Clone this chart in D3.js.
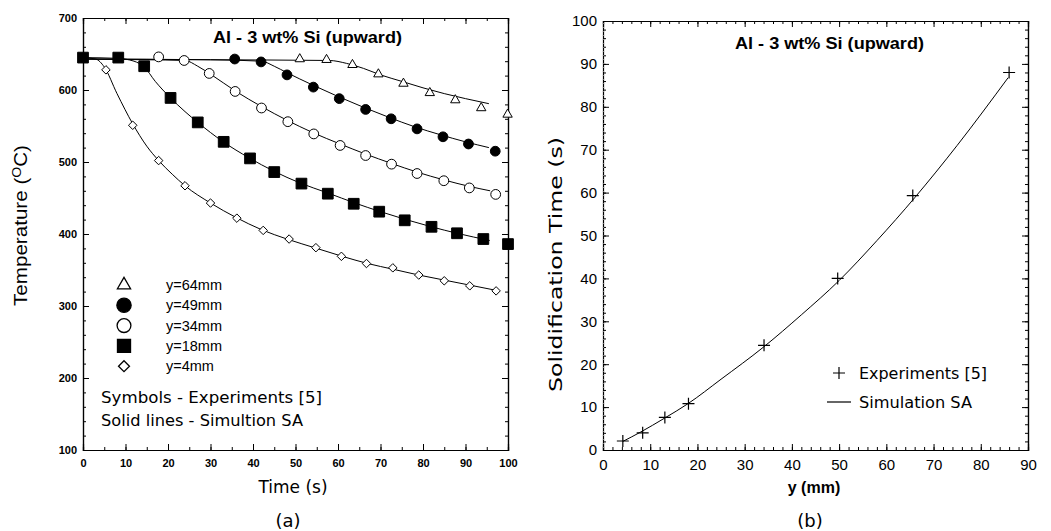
<!DOCTYPE html>
<html>
<head>
<meta charset="utf-8">
<title>Al - 3 wt% Si (upward)</title>
<style>
  body { margin: 0; background: #fff; }
  svg { display: block; }
  .lbl { font-family: "Liberation Sans", Arial, sans-serif; }
  .goth { font-family: "DejaVu Sans", "Liberation Sans", sans-serif; }
</style>
</head>
<body>
<svg id="chart" width="1051" height="531"></svg>
<script src="https://d3js.org/d3.v7.min.js"></script>
<script>

// ---- panel (a): cooling curves, [time (s), temperature (C)] ----
var seriesLabels = ["y=64mm", "y=49mm", "y=34mm", "y=18mm", "y=4mm"]
var timeTicks = d3.range(0, 101, 10)
var tempTicks = d3.range(100, 701, 100)

var exp64 = [[51, 643], [57.3, 642], [63.4, 635], [69.5, 622], [75.4, 609], [81.6, 596], [87.6, 586], [93.7, 575], [99.9, 566]]
var exp49 = [[35.7, 643], [41.9, 639], [48, 621], [54.2, 604], [60.3, 588], [66.5, 573], [72.5, 560], [78.6, 546], [84.7, 535], [90.7, 525], [97, 515]]
var exp34 = [[17.8, 646], [23.8, 641], [29.7, 623], [35.8, 598], [42, 575], [48.2, 556], [54.3, 539], [60.5, 523], [66.5, 509], [72.6, 497], [78.6, 484], [84.9, 474], [90.9, 464], [97.1, 455]]
var exp18 = [[0, 645], [8.3, 645], [14.4, 633], [20.6, 589], [27, 555], [33.1, 528], [39.3, 505], [45, 486], [51.4, 470], [57.6, 456], [63.7, 442], [69.7, 431], [75.7, 419], [82, 410], [88, 401], [94.2, 393], [100, 386]]
var exp4 = [[5.4, 628], [11.7, 551], [17.8, 502], [24, 467], [30, 443], [36.2, 422], [42.4, 405], [48.5, 393], [54.8, 381], [60.8, 369], [66.7, 359], [72.9, 353], [79, 343], [85, 335], [91, 328], [97.2, 321]]

var sim64 = [[0, 643], [30, 642], [58, 641], [62, 637], [66, 630], [70, 621], [75, 612], [80, 603], [85, 595], [90, 588], [95.5, 581]]
var sim49 = [[0, 643], [30, 642], [42, 640], [45, 633], [48, 624], [54, 607], [60, 591], [66, 576], [72, 562], [78, 549], [84, 538], [90, 528], [95.5, 520]]
var sim34 = [[0, 643], [15, 642], [24, 641], [27, 633], [30, 622], [36, 598], [42, 577], [48, 558], [54, 541], [60.5, 525], [66.5, 511], [72.6, 498], [78.6, 486], [85, 475], [91, 466], [95.8, 460]]
var sim18 = [[0, 645], [8, 644], [12, 640], [14.4, 632], [17, 612], [20.6, 589], [24, 570], [27, 555], [33, 528], [39, 506], [45, 487], [51, 471], [57.6, 457], [64, 443], [70, 431], [76, 420], [82, 410], [88, 401], [95.7, 391]]
var sim4 = [[0, 645], [3, 643], [5, 632], [8, 595], [11.7, 553], [15, 522], [17.8, 502], [21, 483], [24, 467], [30, 443], [36, 423], [42, 406], [48, 393], [55, 380], [61, 369], [67, 359], [73, 351], [79, 343], [85, 336], [91, 329], [97, 322]]

// ---- panel (b): solidification time vs height, [y (mm), time (s)] ----
var heightTicks = d3.range(0, 91, 10)
var solTicks = d3.range(0, 101, 10)
var solExp = [[4.2, 2.1], [8.4, 4.0], [13.1, 7.6], [18.1, 10.8], [34.1, 24.4], [49.7, 40], [65.6, 59.3], [86, 88]]
var solSim = [[4.2, 2], [8, 4.2], [13, 7.4], [18, 10.8], [25, 16.5], [34, 24], [42, 31.5], [50, 39.5], [58, 48.8], [66, 58.8], [75, 71], [85.8, 86.8]]

var svg = d3.select("#chart")

// ticks point inward on all four sides, labels only bottom/left
function inwardAxes(g, x, y, xMajor, xMinor, yMajor, yMinor, font, size, bold, dotLeft) {
    var x0 = x.range()[0], x1 = x.range()[1]
    var yb = y.range()[0], yt = y.range()[1]
    g.append("g").attr("transform", "translate(0," + yb + ")")
        .call(d3.axisBottom(x).tickValues(xMinor).tickSize(-3).tickFormat(""))
    g.append("g").attr("transform", "translate(0," + yt + ")")
        .call(d3.axisTop(x).tickValues(xMinor).tickSize(-3).tickFormat(""))
    g.append("g").attr("transform", "translate(" + x0 + ",0)")
        .call(d3.axisLeft(y).tickValues(yMinor).tickSize(-3).tickFormat(""))
    g.append("g").attr("transform", "translate(" + x1 + ",0)")
        .call(d3.axisRight(y).tickValues(yMinor).tickSize(-3).tickFormat(""))
    g.append("g").attr("transform", "translate(0," + yb + ")")
        .call(d3.axisBottom(x).tickValues(xMajor).tickSize(-6).tickPadding(9))
    g.append("g").attr("transform", "translate(0," + yt + ")")
        .call(d3.axisTop(x).tickValues(xMajor).tickSize(-6).tickFormat(""))
    var left = g.append("g").attr("transform", "translate(" + x0 + ",0)")
        .call(d3.axisLeft(y).tickValues(yMajor).tickSize(-6).tickPadding(6))
    g.append("g").attr("transform", "translate(" + x1 + ",0)")
        .call(d3.axisRight(y).tickValues(yMajor).tickSize(-6).tickFormat(""))
    g.selectAll(".domain").attr("stroke", "#000").attr("stroke-width", 1.2)
    g.selectAll(".tick line").attr("stroke", "#000")
    g.selectAll(".tick text")
        .attr("fill", "#000")
        .attr("font-family", font)
        .attr("font-size", size)
        .attr("font-weight", bold ? "bold" : "normal")
    if (dotLeft) {
        left.select(".domain").attr("stroke", "#777").attr("stroke-dasharray", "1,3")
    }
}

// ================= panel (a) =================
var xA = d3.scaleLinear().domain([0, 100]).range([83, 508])
var yA = d3.scaleLinear().domain([100, 700]).range([450, 18])
var gA = svg.append("g")

inwardAxes(gA, xA, yA, timeTicks, d3.range(0, 101, 5), tempTicks, d3.range(100, 701, 20),
    "'Liberation Sans', Arial, sans-serif", 11, true, false)

var lineA = d3.line().x(function(d) { return xA(d[0]) }).y(function(d) { return yA(d[1]) })
    .curve(d3.curveMonotoneX)

var sims = [sim64, sim49, sim34, sim18, sim4]
gA.append("g").selectAll("path").data(sims).enter().append("path")
    .attr("d", lineA).attr("fill", "none").attr("stroke", "#000").attr("stroke-width", 1)

// rotated-square diamond, like the original
var diamond = { draw: function(ctx, size) {
    var r = Math.sqrt(size / 2)
    ctx.moveTo(0, -r); ctx.lineTo(r, 0); ctx.lineTo(0, r); ctx.lineTo(-r, 0); ctx.closePath()
} }

var symTypes = [d3.symbolTriangle, d3.symbolCircle, d3.symbolCircle, d3.symbolSquare, diamond]
var symSizes = [38, 75, 75, 115, 36]
var symFill = ["#fff", "#000", "#fff", "#000", "#fff"]
var exps = [exp64, exp49, exp34, exp18, exp4]

exps.forEach(function(ser, i) {
    gA.append("g").selectAll("path").data(ser).enter().append("path")
        .attr("transform", function(d) { return "translate(" + xA(d[0]) + "," + yA(d[1]) + ")" })
        .attr("d", d3.symbol().type(symTypes[i]).size(symSizes[i]))
        .attr("fill", symFill[i]).attr("stroke", "#000").attr("stroke-width", 1)
})

// legend (a)
var legSizes = [75, 160, 150, 170, 60]
var legA = gA.append("g")
seriesLabels.forEach(function(lab, i) {
    var yy = 285 + i * 20.3
    legA.append("path")
        .attr("transform", "translate(124," + yy + ")")
        .attr("d", d3.symbol().type(symTypes[i]).size(legSizes[i]))
        .attr("fill", symFill[i]).attr("stroke", "#000").attr("stroke-width", 1.3)
    legA.append("text").attr("class", "lbl")
        .attr("x", 166).attr("y", yy + 5).attr("font-size", 14.5).text(lab)
})
legA.append("text").attr("class", "goth").attr("x", 101).attr("y", 403)
    .attr("font-size", 15).attr("textLength", 221).attr("lengthAdjust", "spacingAndGlyphs")
    .text("Symbols - Experiments [5]")
legA.append("text").attr("class", "goth").attr("x", 101).attr("y", 426)
    .attr("font-size", 15).attr("textLength", 202).attr("lengthAdjust", "spacingAndGlyphs")
    .text("Solid lines - Simultion SA")

gA.append("text").attr("class", "lbl").attr("x", 213).attr("y", 43)
    .attr("font-size", 16).attr("font-weight", "bold")
    .attr("textLength", 189).attr("lengthAdjust", "spacingAndGlyphs")
    .text("Al - 3 wt% Si (upward)")

var tLab = gA.append("text").attr("class", "lbl")
    .attr("transform", "translate(27,306) rotate(-90)")
    .attr("font-size", 19).attr("textLength", 161).attr("lengthAdjust", "spacingAndGlyphs")
tLab.append("tspan").text("Temperature (")
tLab.append("tspan").attr("font-size", 13).attr("dy", -6).text("O")
tLab.append("tspan").attr("dy", 6).text("C)")

gA.append("text").attr("class", "goth").attr("x", 293).attr("y", 493)
    .attr("text-anchor", "middle").attr("font-size", 17).text("Time (s)")
gA.append("text").attr("class", "goth").attr("x", 288).attr("y", 527)
    .attr("text-anchor", "middle").attr("font-size", 18).text("(a)")

// ================= panel (b) =================
var xB = d3.scaleLinear().domain([0, 90]).range([603, 1028])
var yB = d3.scaleLinear().domain([0, 100]).range([450, 21])
var gB = svg.append("g")

inwardAxes(gB, xB, yB, heightTicks, d3.range(0, 91, 2), solTicks, d3.range(0, 101, 2),
    "'Liberation Sans', Arial, sans-serif", 15, false, true)

var lineB = d3.line().x(function(d) { return xB(d[0]) }).y(function(d) { return yB(d[1]) })
    .curve(d3.curveMonotoneX)
gB.append("path").datum(solSim).attr("d", lineB)
    .attr("fill", "none").attr("stroke", "#000").attr("stroke-width", 1)

gB.append("g").selectAll("path").data(solExp).enter().append("path")
    .attr("transform", function(d) { return "translate(" + xB(d[0]) + "," + yB(d[1]) + ")" })
    .attr("d", "M-6,0H6M0,-6V6")
    .attr("stroke", "#000").attr("stroke-width", 1.2).attr("fill", "none")

gB.append("path").attr("transform", "translate(839,373)").attr("d", "M-6,0H6M0,-6V6")
    .attr("stroke", "#000").attr("stroke-width", 1.2)
gB.append("text").attr("class", "goth").attr("x", 859).attr("y", 379)
    .attr("font-size", 16).attr("textLength", 128).attr("lengthAdjust", "spacingAndGlyphs")
    .text("Experiments [5]")
gB.append("line").attr("x1", 827).attr("x2", 851).attr("y1", 402).attr("y2", 402)
    .attr("stroke", "#000").attr("stroke-width", 1.2)
gB.append("text").attr("class", "goth").attr("x", 859).attr("y", 408)
    .attr("font-size", 16).attr("textLength", 113).attr("lengthAdjust", "spacingAndGlyphs")
    .text("Simulation SA")

gB.append("text").attr("class", "lbl").attr("x", 735).attr("y", 49)
    .attr("font-size", 16).attr("font-weight", "bold")
    .attr("textLength", 189).attr("lengthAdjust", "spacingAndGlyphs")
    .text("Al - 3 wt% Si (upward)")

gB.append("text").attr("class", "goth")
    .attr("transform", "translate(562,392) rotate(-90)")
    .attr("font-size", 17).attr("textLength", 255).attr("lengthAdjust", "spacingAndGlyphs")
    .text("Solidification Time (s)")
gB.append("text").attr("class", "lbl").attr("x", 814).attr("y", 493)
    .attr("text-anchor", "middle").attr("font-size", 16).attr("font-weight", "bold").text("y (mm)")
gB.append("text").attr("class", "goth").attr("x", 810).attr("y", 527)
    .attr("text-anchor", "middle").attr("font-size", 18).text("(b)")

</script>
</body>
</html>
